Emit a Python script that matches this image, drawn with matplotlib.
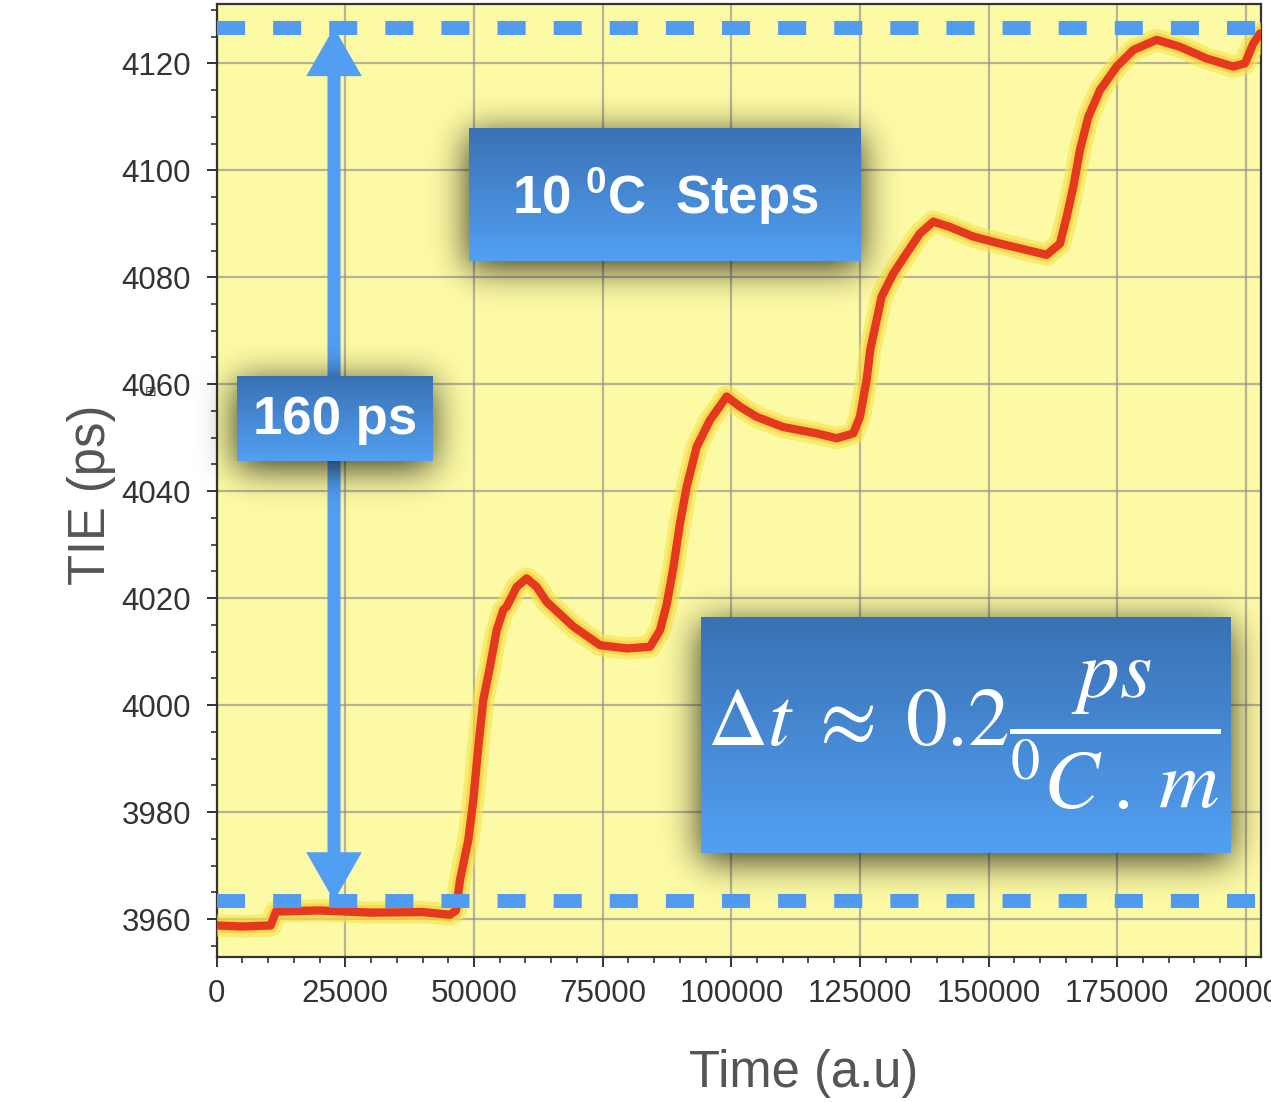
import numpy as np
import matplotlib
matplotlib.use("Agg")
import matplotlib.pyplot as plt
from matplotlib.ticker import MultipleLocator

# ---------------- data ----------------
time_au = [0, 5000, 10500, 11500, 20000, 30000, 40000, 45340, 46500, 47280,
           48900, 49870, 50840, 51810, 53110, 54410, 55700, 56350, 58300, 60240,
           62180, 64130, 69300, 74490, 79670, 84200, 86140, 87440, 88730, 90030,
           91330, 93280, 95860, 99100, 101700, 104930, 110100, 116600, 120480, 123700,
           125000, 126300, 127000, 129220, 131480, 134080, 136670, 139260, 142500, 147030,
           152220, 157400, 161290, 163870, 165170, 166460, 167760, 169380, 171650, 174890,
           178120, 182670, 187160, 192380, 197560, 199820, 201440, 202740]
tie_ps = [3958.8, 3958.6, 3958.8, 3961.4, 3961.6, 3961.2, 3961.3, 3960.8, 3961.6, 3967.3,
          3974.8, 3982.3, 3992.2, 4001.0, 4007.2, 4014.0, 4017.8, 4018.4, 4022.1, 4023.7,
          4022.1, 4019.3, 4014.7, 4011.2, 4010.6, 4010.9, 4014.0, 4018.8, 4025.6, 4034.0,
          4040.8, 4048.3, 4053.3, 4057.7, 4055.8, 4053.9, 4052.0, 4050.8, 4049.9, 4050.8,
          4053.9, 4060.8, 4066.4, 4076.4, 4080.7, 4084.5, 4088.2, 4090.4, 4089.4, 4087.6,
          4086.3, 4085.1, 4084.2, 4086.3, 4091.3, 4096.9, 4103.8, 4110.0, 4115.0, 4119.4,
          4122.5, 4124.4, 4123.1, 4120.9, 4119.4, 4120.0, 4123.7, 4125.6]
ref_levels = [4126.7, 3963.4]          # dashed reference lines
arrow_x = 22800                        # position of the 160 ps double arrow
xticks = list(range(0, 200001, 25000))
yticks = list(range(3960, 4121, 20))
xlim = (0, 202900)
ylim = (3952.9, 4131.1)

box_steps_text = "10 $\\mathregular{^{0}}$C  Steps"
box_range_text = "160 ps"
formula_text = r"$\Delta t\;\approx\;0.2\dfrac{ps}{{}^{0}C\:.\:m}$"

# ---------------- figure ----------------
W, H = 1271, 1102
fig = plt.figure(figsize=(W / 100, H / 100), dpi=100)
fig.patch.set_facecolor("white")

ax = fig.add_axes([216.7 / W, 1 - 957 / H, (1260.8 - 216.7) / W, (957 - 4) / H])
ax.set_facecolor("#fcfaa4")
ax.set_xlim(*xlim)
ax.set_ylim(*ylim)
ax.set_xticks(xticks)
ax.set_yticks(yticks)
ax.xaxis.set_minor_locator(MultipleLocator(5000))
ax.yaxis.set_minor_locator(MultipleLocator(5))
ax.grid(True, which="major", color="#8f8f8f", alpha=0.65, linewidth=1.6)
ax.set_axisbelow(True)
for s in ax.spines.values():
    s.set_color("#333333")
    s.set_linewidth(1.6)
ax.tick_params(which="major", length=7.5, width=1.4, color="#333333",
               labelsize=22.5, labelcolor="#333333")
ax.tick_params(which="minor", length=4.5, width=1.2, color="#333333")
ax.tick_params(axis="y", which="major", pad=11)
ax.tick_params(axis="x", which="major", pad=8)
for lab in ax.get_xticklabels() + ax.get_yticklabels():
    lab.set_family("Liberation Sans")

# curve with glow
ax.plot(time_au, tie_ps, color="#f8e24e", lw=16, alpha=0.6, solid_capstyle="round",
        solid_joinstyle="round", zorder=3)
ax.plot(time_au, tie_ps, color="#f3c12c", lw=10.5, alpha=0.45, solid_capstyle="round",
        solid_joinstyle="round", zorder=3)
ax.plot(time_au, tie_ps, color="#e4391f", lw=6.0, solid_capstyle="round",
        solid_joinstyle="round", zorder=4)

# dashed reference lines
for lvl in ref_levels:
    ax.axhline(lvl, color="#4f9cf0", lw=10.1, dashes=(2.0, 2.0), dash_capstyle="butt",
               zorder=5)

# double arrow (two filled "simple" arrows from the middle)
mid = 0.5 * (ref_levels[0] + ref_levels[1])
for tgt in ref_levels:
    ax.annotate("", xy=(arrow_x, tgt), xytext=(arrow_x, mid),
                arrowprops=dict(arrowstyle="simple,head_length=35,head_width=40,tail_width=9.4",
                                mutation_scale=1, color="#529ef2", lw=0,
                                shrinkA=0, shrinkB=0), zorder=6)

# axis labels
fig.text(92 / W, 1 - 495 / H, "TIE (ps)", rotation=90, ha="center", va="center",
         fontsize=36.5, color="#555555", family="Liberation Sans")
fig.text(804 / W, 1 - 1073 / H, "Time (a.u)", ha="center", va="center",
         fontsize=36.5, color="#555555", family="Liberation Sans")
fig.text(151 / W, 1 - 392 / H, "\u229e", ha="center", va="center", fontsize=10,
         color="#333333", family="DejaVu Sans")

# ---------------- overlay: shadows, boxes, text ----------------
ov = fig.add_axes([0, 0, 1, 1], zorder=10)
ov.set_axis_off()
ov.patch.set_alpha(0)

boxes = [(469, 128, 861, 261), (237, 376, 433, 461), (701, 617, 1231, 853)]

# shadow image at half resolution
f = 2
h2, w2 = H // f, W // f
mask = np.zeros((h2, w2))
off = 7
for (x0, y0, x1, y1) in boxes:
    mask[(y0 + off) // f:(y1 + off) // f, x0 // f:x1 // f] = 1.0
sig = 18 / f
kx = np.arange(-int(3 * sig), int(3 * sig) + 1)
k = np.exp(-0.5 * (kx / sig) ** 2)
k /= k.sum()
blur = np.apply_along_axis(lambda m: np.convolve(m, k, mode="same"), 1, mask)
blur = np.apply_along_axis(lambda m: np.convolve(m, k, mode="same"), 0, blur)
shadow = np.zeros((h2, w2, 4))
shadow[..., 3] = np.clip(0.8 * blur, 0, 1)
ov.imshow(shadow, extent=(0, W, H, 0), origin="upper", aspect="auto",
          interpolation="bilinear", zorder=1)

top_c = np.array([0x3a, 0x71, 0xb4]) / 255
bot_c = np.array([0x52, 0xa0, 0xf2]) / 255
for (x0, y0, x1, y1) in boxes:
    t = np.linspace(0, 1, 256)[:, None, None]
    grad = top_c[None, None, :] * (1 - t) + bot_c[None, None, :] * t
    ov.imshow(grad, extent=(x0, x1, y1, y0), origin="upper", aspect="auto",
              interpolation="bilinear", zorder=2)

ov.text(665, 196, box_steps_text, ha="center", va="center", fontsize=38,
        fontweight="bold", color="white", family="Liberation Sans", zorder=3)
ov.text(335, 420, box_range_text, ha="center", va="center", fontsize=38,
        fontweight="bold", color="white", family="Liberation Sans", zorder=3)
ov.text(964, 735, formula_text, ha="center", va="center", fontsize=60,
        color="white", math_fontfamily="stix", zorder=3)

ov.set_xlim(0, W)
ov.set_ylim(H, 0)

fig.savefig("out.png", dpi=100, facecolor="white")
